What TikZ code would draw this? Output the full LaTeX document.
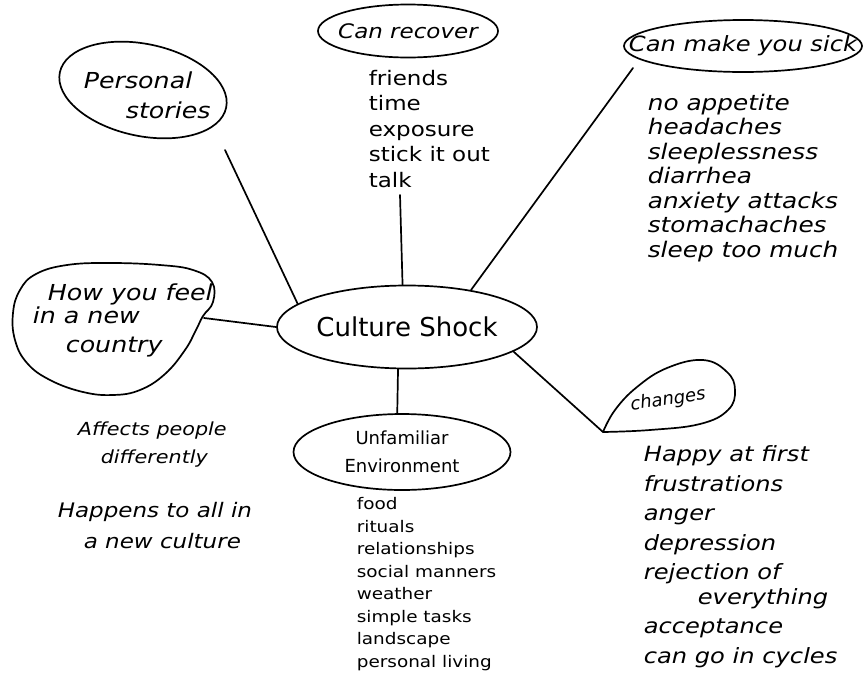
\documentclass[tikz,border=0pt]{standalone}
\usepackage{fontspec}
\setmainfont{DejaVu Sans}
\newfontfamily\handfont{DejaVu Sans}[FakeStretch = 1.15]
\usepackage{tikz}
\usetikzlibrary{shapes.geometric}
\tikzset{
	bubble/.style = { draw, ellipse, inner sep = 0pt },
	note/.style = { align = left, inner sep = 0pt, anchor = base west }
}
\tikzstyle{every path} = [ line width = 1.7pt, line cap = round, line join = round ]

\begin{document}
\begin{tikzpicture}[x = 1pt, y = -1pt]
	\useasboundingbox (0, 0) rectangle (868, 678);

	\node [bubble, minimum width = 260pt, minimum height = 83pt, font = \fontsize{26}{26}\selectfont] (shock) at (407, 327) {Culture Shock};

	% Ways out (notes sit on the baseline of their last line).
	% Negative inner xsep keeps the long labels from widening the ellipse.
	\node [bubble, inner xsep = -40pt, minimum width = 180pt, minimum height = 53pt, font = \handfont\fontsize{20}{20}\selectfont\itshape] (recover) at (408, 31) {Can recover};
	\node [note, font = \handfont\fontsize{20}{25.5}\selectfont] (recoverlist) at (368, 187)
		{friends\\time\\exposure\\stick it out\\talk};
	\coordinate (recovertail) at (400, 195);
	\draw (recovertail) -- (shock.96);

	% Symptoms.
	\node [bubble, inner xsep = -40pt, minimum width = 238pt, minimum height = 52pt, font = \handfont\fontsize{21}{21}\selectfont\itshape] (sick) at (743, 46) {Can make you sick};
	\node [note, font = \handfont\fontsize{21.5}{24.5}\selectfont\itshape] (sicklist) at (647, 257)
		{no appetite\\headaches\\sleeplessness\\diarrhea\\anxiety attacks\\stomachaches\\sleep too much};
	\coordinate (sicktail) at (633, 68);
	\draw (shock.30) -- (sicktail);

	% Stories.
	\node [bubble, rotate = -12, minimum width = 170pt, minimum height = 92pt] (personal) at (143, 90) {};
	\node [note, font = \handfont\fontsize{22}{30}\selectfont\itshape] (personaltext) at (83, 118)
		{Personal\\\hspace*{42pt}stories};
	\coordinate (personaltail) at (225, 150);
	\draw (personaltail) -- (shock.168);

	% Feelings blob.
	\draw plot [smooth cycle, tension = 0.7] coordinates {
		(67, 265) (110, 263) (160, 265) (193, 270) (212, 282) (213, 302)
		(203, 316) (196, 330) (185, 350) (165, 374) (140, 390) (113, 395)
		(83, 392) (50, 380) (27, 363) (15, 340) (13, 313) (20, 290) (36, 274)
	};
	\node [note, font = \handfont\fontsize{22}{21}\selectfont\itshape] (feel) at (32, 352)
		{\hspace*{15pt}How you feel\\in a new\\[8pt]\hspace*{33pt}country};
	\coordinate (feeltail) at (204, 318);
	\draw (feeltail) -- (shock.west);

	\node [note, font = \handfont\fontsize{18}{28}\selectfont\itshape] (affects) at (77, 463)
		{Affects people\\\hspace*{23pt}differently};
	\node [note, font = \handfont\fontsize{20}{31}\selectfont\itshape] (happens) at (57, 548)
		{Happens to all in\\\hspace*{26pt}a new culture};

	% Surroundings.
	\node [bubble, minimum width = 217pt, minimum height = 76pt, align = center, font = \fontsize{18}{28}\selectfont] (env) at (402, 452)
		{Unfamiliar\\Environment};
	\node [note, font = \handfont\fontsize{16}{22.5}\selectfont] (envlist) at (356, 667)
		{food\\rituals\\relationships\\social manners\\weather\\simple tasks\\landscape\\personal living};
	\draw (shock.258) -- (env.97);

	% Stages.
	\draw plot [smooth, tension = 0.7] coordinates {
		(603, 432) (615, 410) (637, 387) (667, 368) (703, 360) (727, 372)
		(735, 390) (728, 410) (700, 424) (650, 430) (603, 432)
	};
	\coordinate (changestip) at (603, 432);
	\node [rotate = 8, font = \fontsize{18}{18}\selectfont\itshape] (changes) at (668, 400) {changes};
	\draw (shock.-13) -- (changestip);
	\node [note, font = \handfont\fontsize{21}{29.5}\selectfont\itshape] (changelist) at (643, 663)
		{Happy at first\\frustrations\\anger\\depression\\rejection of\\[-5pt]\hspace*{54pt}everything\\acceptance\\can go in cycles};
\end{tikzpicture}
\end{document}
